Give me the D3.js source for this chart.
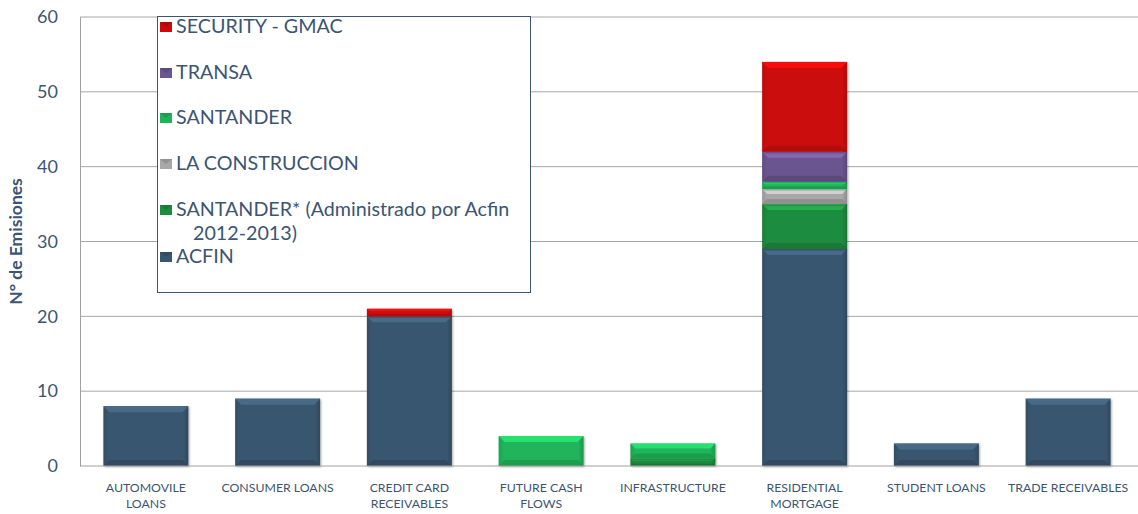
<!DOCTYPE html>
<html><head><meta charset="utf-8">
<script src="https://cdn.jsdelivr.net/npm/d3@7"></script>
<style>
html,body{margin:0;padding:0;background:#fff;}
svg{display:block;font-family:Lato, "Open Sans", sans-serif;}
</style></head>
<body><svg id="c" width="1138" height="514"></svg>
<script>
const categories = ["AUTOMOVILE LOANS","CONSUMER LOANS","CREDIT CARD RECEIVABLES","FUTURE CASH FLOWS","INFRASTRUCTURE","RESIDENTIAL MORTGAGE","STUDENT LOANS","TRADE RECEIVABLES"];
const categoryLines = [["AUTOMOVILE","LOANS"],["CONSUMER LOANS"],["CREDIT CARD","RECEIVABLES"],["FUTURE CASH","FLOWS"],["INFRASTRUCTURE"],["RESIDENTIAL","MORTGAGE"],["STUDENT LOANS"],["TRADE RECEIVABLES"]];
const seriesNames = ["ACFIN","SANTANDER* (Administrado por Acfin 2012-2013)","LA CONSTRUCCION","SANTANDER","TRANSA","SECURITY - GMAC"];
const acfin          = [8, 9, 20, 0, 0, 29, 3, 9];
const santanderAcfin = [0, 0, 0, 0, 1, 6, 0, 0];
const laConstruccion = [0, 0, 0, 0, 0, 2, 0, 0];
const santander      = [0, 0, 0, 4, 2, 1, 0, 0];
const transa         = [0, 0, 0, 0, 0, 4, 0, 0];
const securityGmac   = [0, 0, 1, 0, 0, 12, 0, 0];
const yTicks = [0,10,20,30,40,50,60];
const seriesColors = ["#39566f","#1e8c3f","#a8a8a8","#20b45a","#6a5590","#cc0a0a"];

const seriesValues = [acfin, santanderAcfin, laConstruccion, santander, transa, securityGmac];
const rows = categories.map((c,i)=>{const r={cat:c}; seriesNames.forEach((s,j)=>r[s]=seriesValues[j][i]); return r;});
const stacked = d3.stack().keys(seriesNames)(rows);

const svg = d3.select("#c");
const M = {l:80, r:0, t:17, b:48};
const W = 1138, H = 514;
const x = d3.scaleBand().domain(categories).range([M.l, 1134]).paddingInner(0.355).paddingOuter(0.1775);
const y = d3.scaleLinear().domain([0,60]).range([H-M.b, M.t]);
const textColor = "#3b5573";

svg.append("g").selectAll("line").data(yTicks.filter(t=>t>0)).join("line")
  .attr("x1",M.l).attr("x2",W).attr("y1",d=>y(d)).attr("y2",d=>y(d))
  .attr("stroke","#a6a6a6").attr("stroke-width",1);

const ya = svg.append("g").attr("transform",`translate(${M.l},0)`).call(d3.axisLeft(y).tickValues(yTicks).tickSize(0).tickPadding(22));
ya.select(".domain").attr("stroke","#a0a0a0");
ya.selectAll("text").attr("fill",textColor).attr("font-size",18).attr("font-family","Lato, sans-serif");

const defs = svg.append("defs");
seriesColors.forEach((c,i)=>{
  const g = defs.append("linearGradient").attr("id","g"+i).attr("x1",0).attr("x2",1).attr("y1",0).attr("y2",0);
  const col = d3.color(c);
  g.append("stop").attr("offset","0%").attr("stop-color",col.darker(0.3));
  g.append("stop").attr("offset","6%").attr("stop-color",c);
  g.append("stop").attr("offset","94%").attr("stop-color",c);
  g.append("stop").attr("offset","100%").attr("stop-color",col.darker(0.5));
});
const filt = defs.append("filter").attr("id","sh").attr("x","-10%").attr("y","-10%").attr("width","130%").attr("height","130%");
filt.append("feDropShadow").attr("dx",1).attr("dy",1).attr("stdDeviation",1.2).attr("flood-color","#000").attr("flood-opacity",0.35);

const layers = svg.append("g").selectAll("g").data(stacked).join("g");
layers.each(function(layer, li){
  const g = d3.select(this);
  const col = d3.color(seriesColors[li]);
  layer.forEach((d,i)=>{
    if (d[1]-d[0] <= 0) return;
    const x0 = x(categories[i]), bw = x.bandwidth();
    const yt = y(d[1]), yb = y(d[0]), h = yb-yt;
    const b = Math.min(6, h/3);
    const bg = g.append("g").attr("filter","url(#sh)");
    bg.append("rect").attr("x",x0).attr("y",yt).attr("width",bw).attr("height",h).attr("fill",`url(#g${li})`);
    bg.append("path").attr("d",`M${x0},${yt}L${x0+bw},${yt}L${x0+bw-b},${yt+b}L${x0+b},${yt+b}Z`)
      .attr("fill",col.brighter(0.7)).attr("opacity",0.85);
    bg.append("path").attr("d",`M${x0},${yb}L${x0+bw},${yb}L${x0+bw-b},${yb-b}L${x0+b},${yb-b}Z`)
      .attr("fill",col.darker(0.6)).attr("opacity",0.7);
  });
});

svg.append("line").attr("x1",M.l).attr("x2",W).attr("y1",y(0)).attr("y2",y(0)).attr("stroke","#a0a0a0");

const xl = svg.append("g");
categories.forEach((c,i)=>{
  const cx = x(c)+x.bandwidth()/2;
  const t = xl.append("text").attr("x",cx).attr("y",y(0)+26)
    .attr("text-anchor","middle").attr("fill",textColor).attr("font-size",12.3);
  categoryLines[i].forEach((ln,k)=>t.append("tspan").attr("x",cx).attr("dy",k?16:0).text(ln));
});

svg.append("text").attr("transform",`translate(22,${(y(0)+y(60))/2}) rotate(-90)`)
  .attr("text-anchor","middle").attr("fill",textColor).attr("font-size",17.5).attr("font-weight","bold")
  .text("N° de Emisiones");

const lg = svg.append("g");
lg.append("rect").attr("x",157.5).attr("y",16.5).attr("width",373).attr("height",276)
  .attr("fill","#fff").attr("stroke","#3b5573").attr("stroke-width",1);
const legendItems = seriesNames.map((s,i)=>({name:s,color:seriesColors[i]})).reverse();
const legendY = [27,73,118,164,210,257];
legendItems.forEach((it,i)=>{
  const gy = legendY[i];
  const lines = it.name.startsWith("SANTANDER*") ? ["SANTANDER* (Administrado por Acfin","2012-2013)"] : [it.name];
  const col = d3.color(it.color);
  lg.append("rect").attr("x",160).attr("y",gy-5).attr("width",12).attr("height",10).attr("fill",it.color);
  lg.append("path").attr("d",`M160,${gy-5}L172,${gy-5}L166,${gy}Z`).attr("fill",col.darker(0.4));
  const t = lg.append("text").attr("x",176).attr("y",gy+6).attr("fill",textColor).attr("font-size",19.7);
  lines.forEach((ln,k)=>t.append("tspan").attr("x",k?193:176).attr("dy",k?24:0).text(ln));
});
</script></body></html>
